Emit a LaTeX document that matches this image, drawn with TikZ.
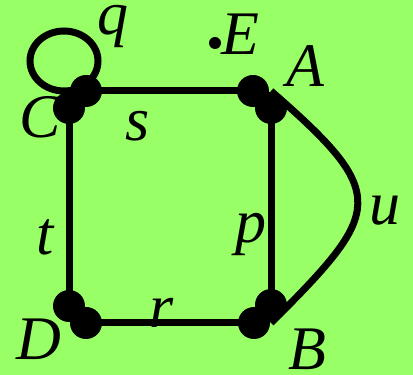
\documentclass[tikz,border=0pt]{standalone}
\usepackage{fontspec}
\setmainfont{Liberation Serif}
\usetikzlibrary{positioning}
\definecolor{bggreen}{RGB}{153,255,102}
\tikzset{
  vdot/.style={circle,fill=black,inner sep=0pt,minimum size=32pt},
  sdot/.style={circle,fill=black,inner sep=0pt,minimum size=12pt},
  edge/.style={line width=7pt},
  lbl/.style={anchor=base,inner sep=0pt,font=\fontsize{62}{70}\selectfont\itshape},
}

\begin{document}
\begin{tikzpicture}[x=1pt,y=1pt]
\fill[bggreen] (0,0) rectangle (413,375);
\useasboundingbox (0,0) rectangle (413,375);
% corners of the square
\coordinate (A) at (271,284);
\coordinate (B) at (271,52);
\coordinate (qc) at (64,314);
% two dots at every vertex
\node[vdot] (c1) at (86,284) {};
\node[vdot] (c2) at (69,267) {};
\node[vdot] (a1) at (253,284) {};
\node[vdot] (a2) at (271,267) {};
\node[vdot] (d1) at (69,69) {};
\node[vdot] (d2) at (86,52) {};
\node[vdot] (b1) at (271,70) {};
\node[vdot] (b2) at (254,52) {};
\node[sdot] (e) at (215,332) {};
% edges
\draw[edge] (c1.center) -- (a1.center);
\draw[edge] (a2.center) -- (b1.center);
\draw[edge] (d2.center) -- (b2.center);
\draw[edge] (c2.center) -- (d1.center);
\draw[edge] (A) to[out=-41,in=45,looseness=1.75] (B);
\draw[edge] (qc) ellipse [x radius=34, y radius=30];
% labels
\node[lbl] (lq) at (113,340) {q};
\node[lbl] (lE) at (240,320) {E};
\node[lbl] (lA) at (305,288) {A};
\node[lbl] (lC) at (40,237) {C};
\node[lbl] (ls) at (138,234) {s};
\node[lbl] (lt) at (45,120) {t};
\node[lbl] (lp) at (251,132) {p};
\node[lbl] (lu) at (385,150) {u};
\node[lbl] (lr) at (162,47) {r};
\node[lbl] (lD) at (39,15) {D};
\node[lbl] (lB) at (307,5) {B};
\end{tikzpicture}
\end{document}
